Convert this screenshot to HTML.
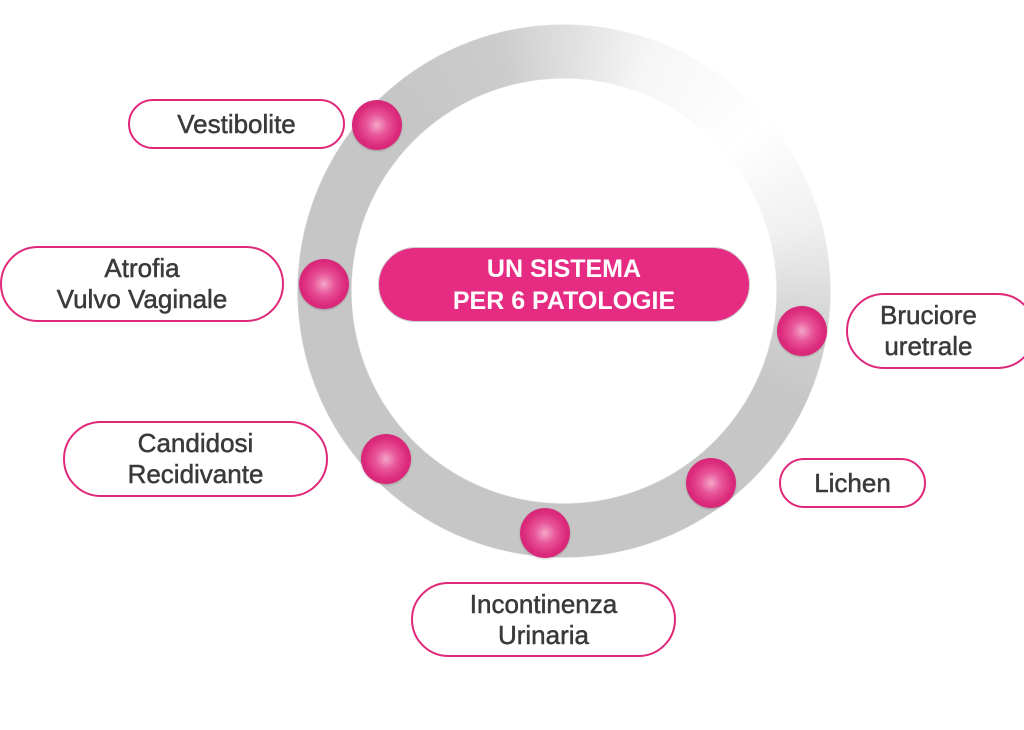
<!DOCTYPE html>
<html><head><style>
body{margin:0;width:1024px;height:730px;background:#fff;position:relative;overflow:hidden;font-family:"Liberation Sans",sans-serif}
.ring{position:absolute;left:297px;top:24px;width:534px;height:534px;border-radius:50%;
background:conic-gradient(from 0deg,#dedede 0deg,#f6f6f6 20deg,#fff 50deg,#f0f0f0 75deg,#d0d0d0 100deg,#c6c6c6 115deg,#c6c6c6 320deg,#cccccc 345deg,#dedede 360deg);
-webkit-mask:radial-gradient(circle,transparent 212px,#000 213px,#000 266px,transparent 267px);
mask:radial-gradient(circle,transparent 212px,#000 213px,#000 266px,transparent 267px)}
.ball{position:absolute;width:50px;height:50px;border-radius:50%;background:radial-gradient(circle at 50% 50%,#f5a6c8 0,#e8559a 30%,#dc2a7c 60%,#c81e6c 100%);box-shadow:0 1px 2px rgba(0,0,0,.2)}
.pill{position:absolute;border:2px solid #e0287a;border-radius:40px;background:#fff;box-sizing:border-box;display:flex;align-items:center;justify-content:center;text-align:center;color:#3a3a3a;font-size:26px;line-height:31px;-webkit-text-stroke:0.5px #3a3a3a}
.center{position:absolute;left:378px;top:247px;width:372px;height:75px;border-radius:38px;background:#e62b83;border:1px solid #ccc;box-sizing:border-box;color:#fff;font-weight:bold;font-size:25px;line-height:32px;display:flex;align-items:center;justify-content:center;text-align:center}
</style></head><body>
<div class="ring"></div>
<div class="center">UN SISTEMA<br>PER 6 PATOLOGIE</div>
<div class="ball" style="left:352px;top:100px"></div>
<div class="ball" style="left:299px;top:259px"></div>
<div class="ball" style="left:361px;top:434px"></div>
<div class="ball" style="left:520px;top:508px"></div>
<div class="ball" style="left:686px;top:458px"></div>
<div class="ball" style="left:777px;top:306px"></div>
<div class="pill" style="left:128px;top:99px;width:217px;height:50px">Vestibolite</div>
<div class="pill" style="left:0px;top:246px;width:284px;height:76px">Atrofia<br>Vulvo Vaginale</div>
<div class="pill" style="left:63px;top:421px;width:265px;height:76px">Candidosi<br>Recidivante</div>
<div class="pill" style="left:411px;top:582px;width:265px;height:75px">Incontinenza<br>Urinaria</div>
<div class="pill" style="left:779px;top:458px;width:147px;height:50px">Lichen</div>
<div class="pill" style="left:846px;top:293px;width:190px;height:76px;justify-content:flex-start;padding-left:32px">Bruciore<br>uretrale</div>
</body></html>
